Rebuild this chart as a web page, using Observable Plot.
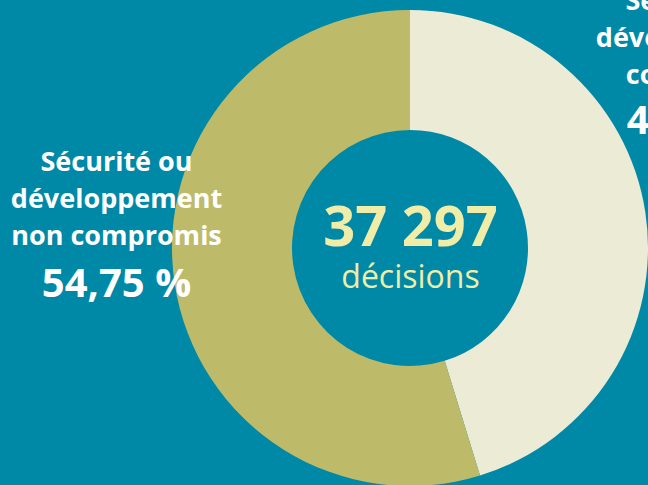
<!DOCTYPE html>
<html><head><meta charset="utf-8">
<script src="https://cdn.jsdelivr.net/npm/d3@7"></script>
<script src="https://cdn.jsdelivr.net/npm/@observablehq/plot@0.6"></script>
<style>
html,body{margin:0;padding:0;background:#0088a7;overflow:hidden;}
svg{display:block;}
</style>
</head><body>
<div id="chart"></div>
<script>
const categories = ["Sécurité ou développement compromis", "Sécurité ou développement non compromis"];
const shares = [45.25, 54.75];
const sliceColors = ["#ebebd6", "#bdbb6a"];
const totalDecisions = "37 297";
const totalLabel = "décisions";
const labelLines = ["Sécurité ou\ndéveloppement\ncompromis", "Sécurité ou\ndéveloppement\nnon compromis"];
const pctLabels = ["45,25 %", "54,75 %"];

const data = categories.map((c, i) => ({category: c, share: shares[i], lines: labelLines[i], pct: pctLabels[i]}));

const W = 648, H = 485;
const cx = 410, cy = 248, rOuter = 238, rInner = 118;

function donut(index, scales, values, dimensions) {
  const pie = d3.pie().sort(null).value(d => d.share);
  const arc = d3.arc().innerRadius(rInner).outerRadius(rOuter);
  const g = d3.create("svg:g").attr("transform", `translate(${scales.x(cx)},${scales.y(cy)})`);
  g.selectAll("path").data(pie(data)).join("path")
    .attr("d", arc)
    .attr("fill", d => scales.color(d.data.category));
  return g.node();
}

const labelFont = {fill: "white", fontWeight: "bold", textAnchor: "middle", fontFamily: "Open Sans"};

const chart = Plot.plot({
  width: W, height: H,
  margin: 0,
  style: {background: "#0088a7", fontFamily: "'Open Sans', sans-serif"},
  x: {domain: [0, W], range: [0, W], axis: null},
  y: {domain: [0, H], range: [0, H], axis: null},
  color: {domain: categories, range: sliceColors},
  marks: [
    donut,
    Plot.text([data[1]], {...labelFont, x: () => 116, y: () => 244, text: "lines", fontSize: 27, lineHeight: 1.37, lineAnchor: "bottom"}),
    Plot.text([data[1]], {...labelFont, x: () => 116, y: () => 296, text: "pct", fontSize: 40, lineAnchor: "bottom"}),
    Plot.text([data[0]], {...labelFont, x: () => 701, y: () => 83, text: "lines", fontSize: 27, lineHeight: 1.37, lineAnchor: "bottom"}),
    Plot.text([data[0]], {...labelFont, x: () => 701, y: () => 133, text: "pct", fontSize: 40, lineAnchor: "bottom"}),
    Plot.text([totalDecisions], {x: () => 410, y: () => 245, text: d => d, fill: "#f0eda8", fontSize: 56, fontWeight: "bold", textAnchor: "middle", lineAnchor: "bottom"}),
    Plot.text([totalLabel], {x: () => 410, y: () => 287, text: d => d, fill: "#f0eda8", fontSize: 32, textAnchor: "middle", lineAnchor: "bottom"})
  ]
});
document.getElementById("chart").append(chart);
</script>
</body></html>
